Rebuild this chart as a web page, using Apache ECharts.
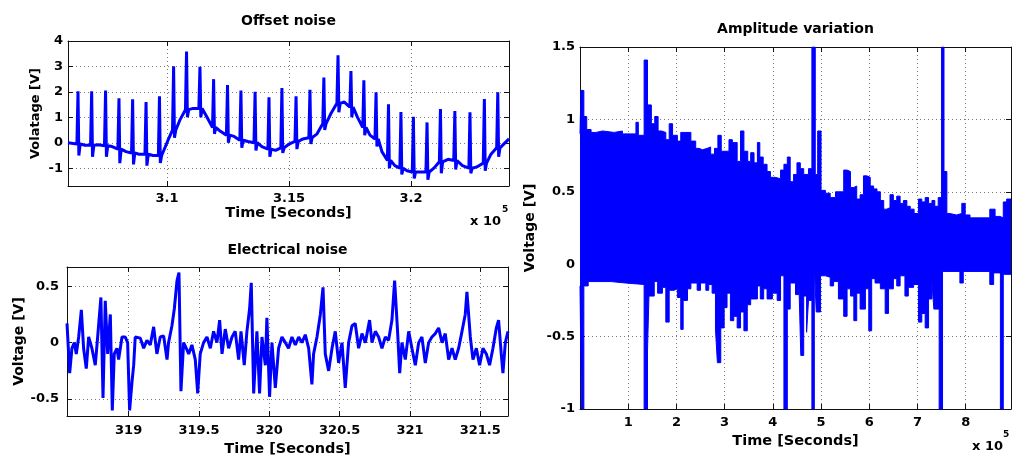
<!DOCTYPE html>
<html><head><meta charset="utf-8">
<script src="https://cdn.jsdelivr.net/npm/echarts@6/dist/echarts.min.js"></script>
<style>html,body{margin:0;padding:0;background:#fff}#c{width:1013px;height:458px}</style>
</head><body><div id="c"></div>
<script>
// ---------- Offset noise (time in seconds) ----------
const offSpikeT = [306350, 306910, 307480, 308030, 308590, 309140, 309690, 310270, 310800, 311350, 311910, 312480, 313030, 313610, 314180, 314710, 315290, 315860, 316430, 317010, 317540, 318070, 318570, 319080, 319590, 320100, 320660, 321210, 321800, 322420, 323010, 323560];
const offSpikePeak = [2.02, 2.02, 2.05, 1.75, 1.71, 1.6, 1.83, 3.01, 3.59, 2.99, 2.5, 2.27, 2.05, 2.0, 1.79, 2.15, 1.83, 2.08, 2.56, 3.44, 2.82, 2.46, 1.98, 1.51, 1.21, 1.02, 0.8, 1.33, 1.25, 1.2, 1.72, 1.98];
const offSpikeBase = [-0.05, -0.1, -0.12, -0.25, -0.4, -0.45, -0.5, 0.5, 1.3, 1.35, 0.6, 0.3, 0.1, 0.0, -0.25, -0.2, 0.05, 0.2, 0.75, 1.55, 1.4, 0.6, 0.15, -0.7, -1.0, -1.15, -1.15, -0.75, -0.7, -1.0, -0.8, -0.2];
const offSpikeTrough = [-0.5, -0.55, -0.55, -0.8, -0.85, -0.9, -0.8, 0.2, 1.0, 1.0, 0.35, 0.0, -0.2, -0.3, -0.55, -0.4, -0.25, -0.05, 0.5, 1.2, 1.0, 0.3, -0.15, -1.0, -1.25, -1.4, -1.45, -1.2, -1.05, -1.2, -1.1, -0.55];
const offBaseT = [305940, 306640, 307190, 307750, 308320, 308850, 309430, 309840, 310040, 310530, 311070, 311640, 312190, 312750, 313320, 313890, 314450, 315000, 315570, 316150, 316720, 317270, 317810, 318320, 318810, 319340, 319840, 320370, 320940, 321520, 322110, 322700, 323280, 324020];
const offBaseV = [0.0, -0.1, -0.08, -0.15, -0.35, -0.45, -0.5, -0.5, 0.1, 0.9, 1.35, 1.0, 0.45, 0.25, 0.05, -0.15, -0.3, -0.05, 0.15, 0.35, 1.15, 1.6, 1.0, 0.3, -0.35, -0.9, -1.1, -1.15, -1.0, -0.65, -0.9, -0.95, -0.45, 0.15];
const offXTicks = [310000, 315000, 320000];
const offYTicks = [-1, 0, 1, 2, 3, 4];

// ---------- Electrical noise ----------
const elecT = [318.562, 318.581, 318.597, 318.614, 318.628, 318.645, 318.664, 318.680, 318.699, 318.716, 318.739, 318.763, 318.780, 318.803, 318.818, 318.834, 318.851, 318.870, 318.884, 318.898, 318.917, 318.929, 318.953, 318.976, 318.993, 319.007, 319.024, 319.036, 319.047, 319.083, 319.107, 319.130, 319.154, 319.178, 319.201, 319.225, 319.249, 319.273, 319.284, 319.308, 319.325, 319.344, 319.358, 319.372, 319.391, 319.410, 319.427, 319.450, 319.474, 319.491, 319.509, 319.533, 319.557, 319.581, 319.604, 319.628, 319.647, 319.664, 319.687, 319.711, 319.735, 319.758, 319.782, 319.799, 319.822, 319.841, 319.860, 319.872, 319.889, 319.912, 319.931, 319.948, 319.972, 319.983, 320.002, 320.019, 320.043, 320.066, 320.090, 320.114, 320.137, 320.161, 320.185, 320.209, 320.232, 320.256, 320.280, 320.303, 320.315, 320.339, 320.363, 320.382, 320.398, 320.422, 320.446, 320.469, 320.493, 320.517, 320.540, 320.564, 320.588, 320.611, 320.635, 320.659, 320.683, 320.713, 320.730, 320.754, 320.777, 320.801, 320.825, 320.848, 320.872, 320.891, 320.912, 320.927, 320.943, 320.967, 320.991, 321.014, 321.038, 321.062, 321.085, 321.109, 321.133, 321.156, 321.180, 321.204, 321.228, 321.251, 321.275, 321.299, 321.322, 321.346, 321.370, 321.393, 321.405, 321.429, 321.448, 321.472, 321.495, 321.519, 321.543, 321.566, 321.590, 321.614, 321.630, 321.649, 321.661, 321.678, 321.697];
const elecV = [0.17, -0.27, -0.05, 0.0, -0.1, 0.05, 0.29, -0.05, -0.23, 0.05, -0.05, -0.2, 0.05, 0.4, -0.49, 0.37, -0.1, 0.25, -0.6, -0.1, -0.05, -0.15, 0.05, 0.05, 0.0, -0.6, -0.35, -0.2, 0.05, 0.04, -0.05, 0.02, -0.02, 0.14, -0.1, 0.05, 0.06, -0.15, 0.0, 0.15, 0.3, 0.55, 0.62, -0.43, 0.0, -0.05, -0.1, -0.02, -0.15, -0.45, -0.1, 0.0, 0.05, -0.05, 0.1, 0.0, 0.2, -0.1, 0.12, -0.05, 0.05, 0.1, -0.15, 0.1, -0.2, 0.1, 0.3, 0.53, -0.45, 0.1, -0.45, 0.05, -0.2, 0.22, -0.48, 0.0, -0.4, -0.05, 0.05, 0.0, -0.05, 0.05, -0.02, 0.05, 0.0, 0.07, -0.05, -0.37, -0.1, 0.05, 0.25, 0.49, -0.1, -0.25, -0.05, 0.1, -0.18, 0.0, -0.4, 0.0, 0.15, 0.17, -0.05, 0.08, 0.0, 0.2, 0.0, 0.1, 0.05, -0.05, 0.05, 0.02, 0.2, 0.55, 0.1, -0.27, 0.0, -0.15, 0.1, -0.05, -0.2, 0.0, 0.05, -0.18, 0.0, 0.05, 0.08, 0.13, 0.0, 0.08, -0.15, -0.05, -0.15, -0.05, 0.1, 0.25, 0.45, 0.05, -0.15, -0.05, -0.2, -0.05, -0.1, -0.2, -0.05, 0.13, 0.2, -0.1, -0.27, 0.0, 0.1];
const elecXTicks = [319, 319.5, 320, 320.5, 321, 321.5];
const elecYTicks = [-0.5, 0, 0.5];

// ---------- Amplitude variation (time in units of 1e5 s) ----------
const ampUpT = [0.0, 0.02, 0.08, 0.14, 0.23, 0.33, 0.47, 0.71, 0.88, 1.16, 1.21, 1.33, 1.40, 1.48, 1.55, 1.62, 1.69, 1.78, 1.85, 1.92, 2.02, 2.09, 2.30, 2.40, 2.47, 2.54, 2.64, 2.71, 2.79, 2.86, 2.93, 3.09, 3.16, 3.26, 3.33, 3.40, 3.48, 3.54, 3.61, 3.68, 3.73, 3.80, 3.88, 3.95, 4.05, 4.16, 4.23, 4.30, 4.36, 4.43, 4.50, 4.57, 4.64, 4.74, 4.81, 4.88, 4.93, 5.00, 5.09, 5.19, 5.30, 5.47, 5.54, 5.61, 5.68, 5.74, 5.81, 5.88, 5.95, 6.02, 6.09, 6.16, 6.23, 6.30, 6.36, 6.43, 6.50, 6.57, 6.64, 6.71, 6.78, 6.85, 6.93, 7.02, 7.09, 7.16, 7.23, 7.30, 7.36, 7.43, 7.50, 7.55, 7.61, 7.67, 7.81, 7.92, 7.99, 8.09, 8.50, 8.61, 8.71, 8.78, 8.85, 8.94];
const ampUpV = [0.90, 1.20, 1.02, 0.93, 0.91, 0.92, 0.91, 0.92, 0.90, 0.98, 0.89, 1.41, 1.10, 0.97, 1.02, 0.92, 0.91, 0.86, 0.97, 0.89, 0.85, 0.91, 0.85, 0.80, 0.79, 0.80, 0.81, 0.76, 0.80, 0.89, 0.78, 0.86, 0.84, 0.71, 0.92, 0.78, 0.71, 0.77, 0.70, 0.84, 0.74, 0.69, 0.64, 0.60, 0.59, 0.65, 0.69, 0.74, 0.57, 0.62, 0.70, 0.66, 0.62, 0.66, 1.50, 0.62, 0.92, 0.51, 0.49, 0.46, 0.50, 0.65, 0.64, 0.53, 0.54, 0.45, 0.48, 0.61, 0.60, 0.54, 0.52, 0.50, 0.44, 0.38, 0.39, 0.48, 0.44, 0.47, 0.42, 0.44, 0.40, 0.38, 0.35, 0.45, 0.43, 0.46, 0.42, 0.44, 0.40, 0.46, 1.50, 0.64, 0.35, 0.34, 0.35, 0.42, 0.34, 0.32, 0.38, 0.33, 0.32, 0.43, 0.45, 0.45];
const ampLoT = [0.0, 0.03, 0.08, 0.17, 0.64, 0.95, 1.33, 1.40, 1.43, 1.54, 1.61, 1.71, 1.78, 1.85, 1.95, 2.02, 2.09, 2.14, 2.23, 2.30, 2.43, 2.50, 2.61, 2.67, 2.74, 2.81, 2.85, 2.92, 2.99, 3.05, 3.12, 3.19, 3.26, 3.33, 3.40, 3.47, 3.54, 3.68, 3.74, 3.81, 3.88, 3.99, 4.09, 4.16, 4.23, 4.30, 4.36, 4.47, 4.54, 4.58, 4.64, 4.70, 4.74, 4.81, 4.86, 4.90, 4.99, 5.09, 5.19, 5.26, 5.36, 5.47, 5.54, 5.61, 5.68, 5.74, 5.81, 5.92, 5.99, 6.05, 6.12, 6.23, 6.33, 6.40, 6.50, 6.57, 6.64, 6.74, 6.81, 6.92, 7.02, 7.09, 7.16, 7.23, 7.30, 7.34, 7.45, 7.52, 7.88, 7.95, 8.50, 8.58, 8.72, 8.78, 8.94];
const ampLoV = [-0.15, -1.0, -0.15, -0.12, -0.13, -0.14, -1.0, -0.6, -0.22, -0.12, -0.20, -0.16, -0.40, -0.18, -0.17, -0.23, -0.45, -0.25, -0.17, -0.13, -0.18, -0.13, -0.18, -0.14, -0.20, -0.45, -0.68, -0.44, -0.30, -0.20, -0.39, -0.36, -0.44, -0.33, -0.46, -0.28, -0.24, -0.15, -0.24, -0.17, -0.24, -0.20, -0.25, -0.08, -1.0, -0.31, -0.13, -0.21, -0.12, -0.63, -0.22, -0.47, -0.25, -1.0, 0.0, -0.33, -0.08, -0.09, -0.15, -0.12, -0.24, -0.36, -0.17, -0.22, -0.39, -0.20, -0.31, -0.17, -0.46, -0.10, -0.13, -0.17, -0.34, -0.17, -0.10, -0.15, -0.08, -0.22, -0.16, -0.14, -0.40, -0.34, -0.44, -0.24, -0.12, -0.31, -1.0, -0.05, -0.13, -0.05, -0.14, -0.06, -1.0, -0.07, -0.07];
const ampXTicks = [1, 2, 3, 4, 5, 6, 7, 8];
const ampYTicks = [-1, -0.5, 0, 0.5, 1, 1.5];

// ---------- build ----------
const FONT = 'DejaVu Sans';
const BLUE = '#0000ff';
const GRIDC = '#7a7a7a';

function offsetData() {
  const pts = [];
  for (let i = 0; i < offBaseT.length; i++) pts.push([offBaseT[i], offBaseV[i]]);
  for (let i = 0; i < offSpikeT.length; i++) {
    const t = offSpikeT[i];
    pts.push([t - 45, offSpikeBase[i]]);
    pts.push([t, offSpikePeak[i]]);
    pts.push([t + 35, offSpikeTrough[i]]);
    pts.push([t + 90, offSpikeBase[i]]);
  }
  pts.sort((a, b) => a[0] - b[0]);
  return pts;
}

function xAxes(g, min, max, ticks, fmt, name, nameGap, margin) {
  const base = {
    type: 'value', gridIndex: g, min: min, max: max,
    axisLine: { show: true, onZero: false, lineStyle: { color: '#111', width: 1 } },
    axisTick: { show: true, inside: true, length: 5, customValues: ticks, lineStyle: { color: '#111' } }
  };
  return [
    Object.assign({}, base, {
      position: 'bottom',
      axisLabel: { show: true, customValues: ticks, formatter: fmt, margin: margin, color: '#000', fontFamily: FONT, fontWeight: 'bold', fontSize: 13 },
      splitLine: { show: true, lineStyle: { color: GRIDC, type: [1, 3], width: 1 } },
      name: name, nameLocation: 'middle', nameGap: nameGap,
      nameTextStyle: { color: '#000', fontFamily: FONT, fontWeight: 'bold', fontSize: 14.5 }
    }),
    Object.assign({}, base, {
      position: 'top',
      axisLabel: { show: false },
      splitLine: { show: false }
    })
  ];
}
function yAxes(g, min, max, ticks, name, nameGap, nameSize, margin) {
  const base = {
    type: 'value', gridIndex: g, min: min, max: max,
    axisLine: { show: true, onZero: false, lineStyle: { color: '#111', width: 1 } },
    axisTick: { show: true, inside: true, length: 5, customValues: ticks, lineStyle: { color: '#111' } }
  };
  return [
    Object.assign({}, base, {
      position: 'left',
      axisLabel: { show: true, customValues: ticks, margin: margin, color: '#000', fontFamily: FONT, fontWeight: 'bold', fontSize: 13 },
      splitLine: { show: true, lineStyle: { color: GRIDC, type: [1, 3], width: 1 } },
      name: name, nameLocation: 'middle', nameGap: nameGap, nameRotate: 90,
      nameTextStyle: { color: '#000', fontFamily: FONT, fontWeight: 'bold', fontSize: nameSize }
    }),
    Object.assign({}, base, {
      position: 'right',
      axisLabel: { show: false },
      splitLine: { show: false }
    })
  ];
}

const e5 = v => String(+(v / 1e5).toFixed(4));

const option = {
  animation: false,
  backgroundColor: '#fff',
  grid: [
    { left: 68, top: 41, width: 441, height: 145 },
    { left: 67, top: 267, width: 441, height: 154 },
    { left: 580, top: 47, width: 431, height: 362 }
  ],
  xAxis: [].concat(
    xAxes(0, 305940, 324020, offXTicks, e5, 'Time [Seconds]', 20, 6),
    xAxes(1, 318.562, 321.697, elecXTicks, v => String(v), 'Time [Seconds]', 26, 8),
    xAxes(2, 0, 894000, ampXTicks.map(v => v * 1e5), e5, 'Time [Seconds]', 22, 7)
  ),
  yAxis: [].concat(
    yAxes(0, -1.7, 4, offYTicks, 'Volatage [V]', 26, 13, 5),
    yAxes(1, -0.65, 0.67, elecYTicks, 'Voltage [V]', 40, 14, 8),
    yAxes(2, -1, 1.5, ampYTicks, 'Voltage [V]', 43, 14, 5)
  ),
  series: [
    { type: 'line', xAxisIndex: 0, yAxisIndex: 0, data: offsetData(), symbol: 'none',
      lineStyle: { color: BLUE, width: 3 }, itemStyle: { color: BLUE } },
    { type: 'line', xAxisIndex: 2, yAxisIndex: 2, data: elecT.map((t, i) => [t, elecV[i]]), symbol: 'none',
      lineStyle: { color: BLUE, width: 3 }, itemStyle: { color: BLUE } },
    { type: 'line', xAxisIndex: 4, yAxisIndex: 4, data: ampUpT.map((t, i) => [t * 1e5, ampUpV[i]]), symbol: 'none', step: 'end',
      lineStyle: { color: BLUE, width: 1 }, itemStyle: { color: BLUE }, areaStyle: { color: BLUE, opacity: 1, origin: -0.03 } },
    { type: 'line', xAxisIndex: 4, yAxisIndex: 4, data: ampLoT.map((t, i) => [t * 1e5, ampLoV[i]]), symbol: 'none', step: 'end',
      lineStyle: { color: BLUE, width: 1 }, itemStyle: { color: BLUE }, areaStyle: { color: BLUE, opacity: 1, origin: 0.03 } }
  ],
  graphic: [
    { type: 'text', x: 288.5, y: 21.5, style: { text: 'Offset noise', fill: '#000', font: 'bold 14px "DejaVu Sans"', align: 'center', verticalAlign: 'middle' } },
    { type: 'text', x: 287.5, y: 250, style: { text: 'Electrical noise', fill: '#000', font: 'bold 14px "DejaVu Sans"', align: 'center', verticalAlign: 'middle' } },
    { type: 'text', x: 795.5, y: 29, style: { text: 'Amplitude variation', fill: '#000', font: 'bold 14px "DejaVu Sans"', align: 'center', verticalAlign: 'middle' } },
    { type: 'text', x: 470, y: 222, style: { text: 'x 10', fill: '#000', font: 'bold 13px "DejaVu Sans"', align: 'left', verticalAlign: 'middle' } },
    { type: 'text', x: 502, y: 210, style: { text: '5', fill: '#000', font: 'bold 9px "DejaVu Sans"', align: 'left', verticalAlign: 'middle' } },
    { type: 'text', x: 972, y: 446.5, style: { text: 'x 10', fill: '#000', font: 'bold 13px "DejaVu Sans"', align: 'left', verticalAlign: 'middle' } },
    { type: 'text', x: 1003, y: 435, style: { text: '5', fill: '#000', font: 'bold 9px "DejaVu Sans"', align: 'left', verticalAlign: 'middle' } }
  ]
};

const chart = echarts.init(document.getElementById('c'), null, { renderer: 'canvas' });
chart.setOption(option);
</script></body></html>
